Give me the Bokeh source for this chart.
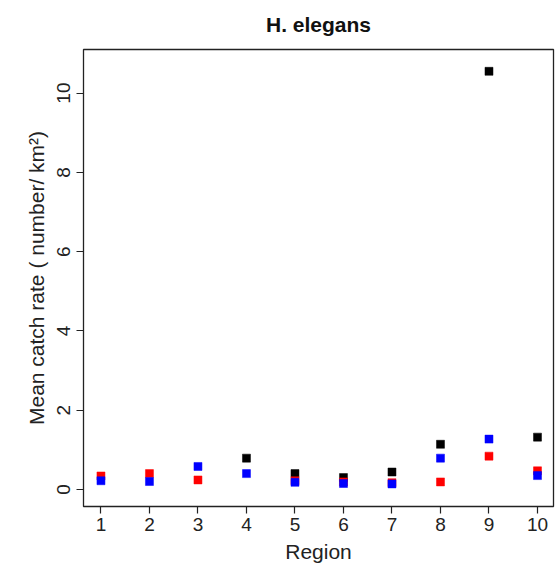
from bokeh.plotting import figure
from bokeh.models import ColumnDataSource, Range1d, FixedTicker, LinearAxis
from bokeh.embed import file_html
from bokeh.resources import INLINE

regions = [1, 2, 3, 4, 5, 6, 7, 8, 9, 10]
series_black = [None, None, None, 0.79, 0.40, 0.30, 0.44, 1.14, 10.55, 1.32]
series_red = [0.34, 0.40, 0.24, None, 0.22, 0.19, 0.17, 0.19, 0.84, 0.47]
series_blue = [0.22, 0.20, 0.58, 0.40, 0.18, 0.15, 0.14, 0.79, 1.27, 0.35]
x_ticks = [1, 2, 3, 4, 5, 6, 7, 8, 9, 10]
y_ticks = [0, 2, 4, 6, 8, 10]
title_text = "H. elegans"

FONT = "Liberation Sans"

p = figure(width=555, height=569, output_backend="svg", toolbar_location=None,
           x_range=Range1d(0.64, 10.33), y_range=Range1d(-0.43, 11.1),
           min_border_left=83, min_border_right=2, min_border_top=49, min_border_bottom=63)

bottom_axis = p.below[0]
left_axis = p.left[0]

# title drawn as the label of a tick-less axis above the frame
title_axis = LinearAxis(ticker=FixedTicker(ticks=[]), axis_label=title_text,
                        axis_line_color=None, major_tick_line_color=None,
                        minor_tick_line_color=None, major_tick_out=0, major_tick_in=0,
                        minor_tick_out=0, major_label_standoff=0,
                        axis_label_text_font=FONT, axis_label_text_font_size="21px",
                        axis_label_text_font_style="bold", axis_label_text_color="#111111",
                        axis_label_standoff=14)
p.add_layout(title_axis, "above")

p.xgrid.visible = False
p.ygrid.visible = False
p.outline_line_color = "#222222"
p.outline_line_width = 1.3
p.background_fill_color = "white"
p.border_fill_color = "white"

for ax in (bottom_axis, left_axis):
    ax.axis_line_color = None
    ax.major_tick_line_color = "#222222"
    ax.major_tick_line_width = 1.2
    ax.major_tick_out = 7
    ax.major_tick_in = 0
    ax.minor_tick_line_color = None
    ax.major_label_text_font = FONT
    ax.major_label_text_font_size = "19px"
    ax.major_label_text_color = "#222222"
    ax.axis_label_text_font = FONT
    ax.axis_label_text_font_size = "21px"
    ax.axis_label_text_font_style = "normal"
    ax.axis_label_text_color = "#222222"

bottom_axis.ticker = FixedTicker(ticks=x_ticks)
left_axis.ticker = FixedTicker(ticks=y_ticks)
left_axis.major_label_orientation = "vertical"
bottom_axis.major_label_standoff = 4
left_axis.major_label_standoff = 6
bottom_axis.axis_label = "Region"
left_axis.axis_label = "Mean catch rate ( number/ km\u00b2)"
bottom_axis.axis_label_standoff = 6
left_axis.axis_label_standoff = 7

def pts(vals):
    xs = [r for r, v in zip(regions, vals) if v is not None]
    ys = [v for v in vals if v is not None]
    return ColumnDataSource(dict(x=xs, y=ys))

p.scatter("x", "y", source=pts(series_black), marker="square", size=8,
          fill_color="black", line_color="black", line_width=0.5)
p.scatter("x", "y", source=pts(series_red), marker="square", size=8,
          fill_color="#ff0000", line_color="#ff0000", line_width=0.5)
p.scatter("x", "y", source=pts(series_blue), marker="square", size=8,
          fill_color="#0000ff", line_color="#0000ff", line_width=0.5)

open("out.html", "w").write(file_html(p, INLINE))
